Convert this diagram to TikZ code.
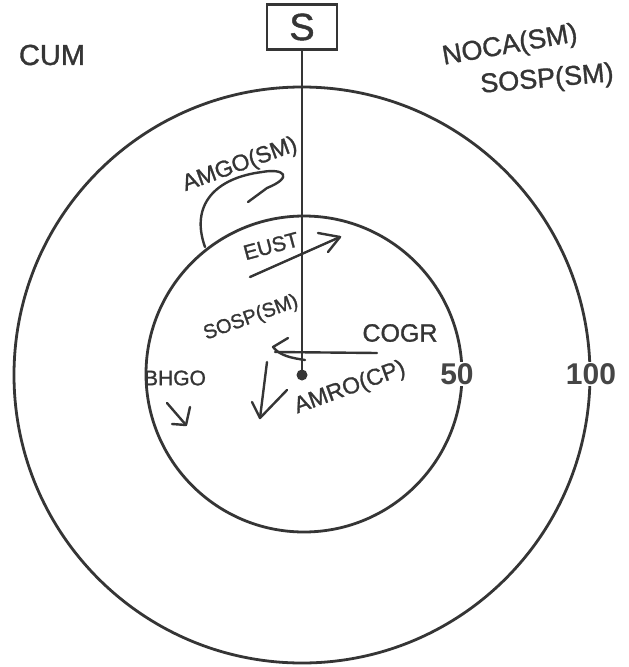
\documentclass[tikz,border=0pt]{standalone}
\usepackage{fontspec}
\setmainfont{Liberation Sans}
\newfontfamily\handfont[FakeBold=1.2]{Liberation Sans}
\definecolor{inkc}{HTML}{353535}
\definecolor{numc}{HTML}{454545}
\begin{document}
\begin{tikzpicture}[x=1pt,y=-1pt,
  ink/.style={draw=inkc, line width=2.4pt, line cap=round, line join=round},
  ring/.style={circle, draw=inkc, line width=2.8pt, inner sep=0pt},
  hand/.style={text=inkc, inner sep=1pt},
  num/.style={text=numc, fill=white, inner sep=1pt, font=\fontsize{30}{30}\selectfont\bfseries}]
\useasboundingbox[fill=white] (0,0) rectangle (629,667);
% rings
\node[ring, minimum size=576pt] (outer) at (302,375) {};
\node[ring, minimum size=316pt] (inner) at (304,374) {};
% source box and line
\node[draw=inkc, line width=2.2pt, minimum width=70pt, minimum height=45pt, inner sep=0pt,
      font=\handfont\fontsize{38}{38}\selectfont, text=inkc] (S) at (302,27) {S};
\node[circle, fill=inkc, minimum size=11pt, inner sep=0pt] (dot) at (302,375) {};
\draw[ink, line width=2pt] (S.south) -- (dot.center);
% scale numbers
\node[num] (n50) at (457,374) {50};
\node[num] (n100) at (591,374) {100};
% labels
\node[hand, font=\handfont\fontsize{29}{29}\selectfont] (cum) at (52,55) {CUM};
\node[hand, font=\handfont\fontsize{27}{27}\selectfont, rotate=10] (noca) at (510,46) {NOCA(SM)};
\node[hand, font=\handfont\fontsize{27}{27}\selectfont, rotate=5] (sospa) at (547,80) {SOSP(SM)};
\node[hand, font=\handfont\fontsize{23}{23}\selectfont, rotate=20] (amgo) at (240,165) {AMGO(SM)};
\node[hand, font=\handfont\fontsize{21}{21}\selectfont, rotate=15] (eust) at (271,246) {EUST};
\node[hand, font=\handfont\fontsize{20}{20}\selectfont, rotate=20] (sospb) at (251,318) {SOSP(SM)};
\node[hand, font=\handfont\fontsize{25}{25}\selectfont] (cogr) at (400,333) {COGR};
\node[hand, font=\handfont\fontsize{23}{23}\selectfont, rotate=20] (amro) at (350,388) {AMRO(CP)};
\node[hand, font=\handfont\fontsize{21}{21}\selectfont] (bhgo) at (175,378) {BHGO};
% hand-drawn arrows
\coordinate (a1) at (205,247);
\coordinate (a2) at (267,188);
\coordinate (a3) at (248,202);
\draw[ink] (a1) .. controls (190,205) and (215,178) .. (262,172)
  .. controls (284,168) and (294,177) .. (a2) -- (a3);
\coordinate (e1) at (250,277);
\coordinate (e2) at (340,237);
\draw[ink] (e1) -- (e2);
\draw[ink] (318,233) -- (e2) -- (328,252);
\coordinate (c1) at (377,353);
\coordinate (c2) at (275,352);
\draw[ink] (c1) -- (c2);
\draw[ink] (288,338) -- (273,347) .. controls (280,356) and (292,358) .. (305,360);
\coordinate (d1) at (267,362);
\coordinate (d2) at (260,418);
\draw[ink] (d1) -- (d2);
\draw[ink] (252,402) -- (d2) -- (287,390);
\coordinate (b1) at (167,403);
\coordinate (b2) at (186,425);
\draw[ink] (b1) -- (b2);
\draw[ink] (190,407) -- (b2) -- (172,424);
\end{tikzpicture}
\end{document}
